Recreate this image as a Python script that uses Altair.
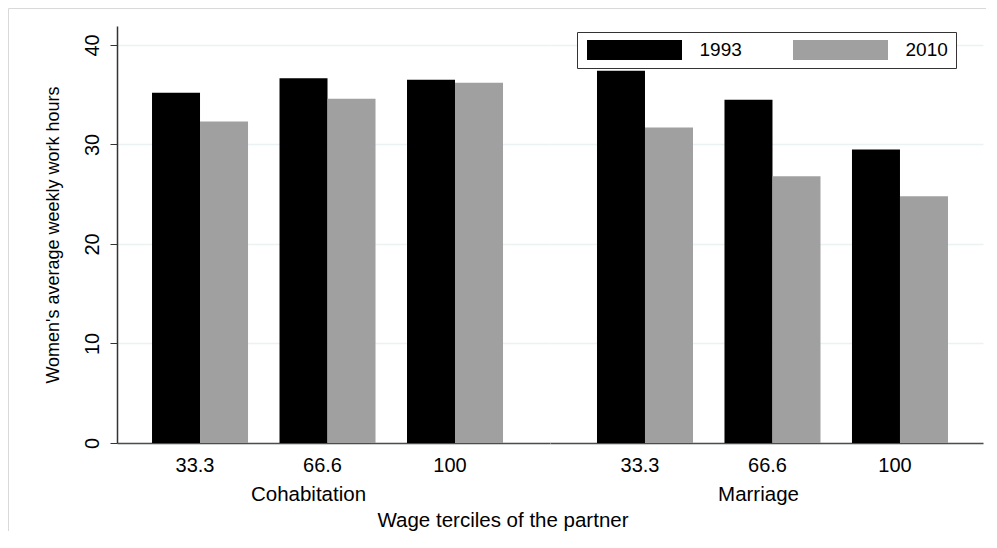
import altair as alt
import pandas as pd

# ---- data ----
terciles = ["33.3", "66.6", "100"]
years = ["1993", "2010"]
unions = ["Cohabitation", "Marriage"]
cohab_1993 = [35.2, 36.65, 36.5]
cohab_2010 = [32.3, 34.6, 36.2]
marr_1993 = [37.4, 34.5, 29.5]
marr_2010 = [31.7, 26.8, 24.8]
y_ticks = [0, 10, 20, 30, 40]
y_title = "Women's average weekly work hours"
x_title = "Wage terciles of the partner"


def table(union, v1993, v2010):
    rows = []
    for t, a, b in zip(terciles, v1993, v2010):
        rows.append({"union": union, "tercile": t, "year": years[0], "hours": a})
        rows.append({"union": union, "tercile": t, "year": years[1], "hours": b})
    return pd.DataFrame(rows)


FONT = "Liberation Sans"
W, H = 433, 417
INK = "#333333"
GRID = "#eaf2f3"
FRAME = "#d9d9d9"

color_scale = alt.Scale(domain=years, range=["#000000", "#a0a0a0"])
y_scale = alt.Scale(domain=[0, 41.9], nice=False)
one = pd.DataFrame({"k": [0]})


def x_enc(title, align, title_x):
    return alt.X(
        "tercile:N",
        sort=terciles,
        scale=alt.Scale(paddingInner=0.247, paddingOuter=0.3216, align=align),
        axis=alt.Axis(
            title=title, titleX=title_x, labelAngle=0, ticks=False, tickSize=0,
            labelPadding=12, labelFontSize=20, labelColor="black", labelOffset=-5,
            titleFontSize=20.5, titleFontWeight="normal", titleColor="black",
            titlePadding=9, domainColor="#4d4d4d", domainWidth=1.5, grid=False,
        ),
    )


y_left = alt.Axis(
    title=y_title, values=y_ticks, labelAngle=270, labelAlign="center",
    labelBaseline="alphabetic", labelPadding=12, labelFontSize=20,
    labelColor="black", tickSize=7, tickColor=INK, domainColor=INK,
    domainWidth=1.5, titleFontSize=18, titleFontWeight="normal",
    titleColor="black", titlePadding=20, grid=True, gridColor=GRID, gridWidth=1.5,
)
y_right = alt.Axis(
    title="", values=y_ticks, labels=False, ticks=False, domain=False,
    grid=True, gridColor=GRID, gridWidth=1.5,
)

legend = alt.Legend(
    title=None, orient="none", legendX=27, legendY=6, direction="horizontal",
    symbolType="M-4.75,-1H4.75V1H-4.75Z", symbolSize=400,
    symbolOffset=39.5, symbolStrokeWidth=0, labelOffset=55,
    labelFontSize=19, labelColor="black", columnPadding=49, padding=8,
    strokeColor=INK, fillColor="white",
)


def bars(df, title, align, title_x, yaxis, leg):
    return alt.Chart(df).mark_bar().encode(
        x=x_enc(title, align, title_x),
        xOffset=alt.XOffset("year:N", sort=years,
                            scale=alt.Scale(paddingInner=0, paddingOuter=0)),
        y=alt.Y("hours:Q", scale=y_scale, axis=yaxis),
        color=alt.Color("year:N", scale=color_scale, legend=leg),
    )


left_bars = bars(table(unions[0], cohab_1993, cohab_2010), unions[0], 0.427, 191, y_left, None)
right_bars = bars(table(unions[1], marr_1993, marr_2010), unions[1], 0.573, 208, y_right, legend)

left_edge = alt.Chart(one).mark_rule(color=FRAME, strokeWidth=1).encode(
    x=alt.value(-108.5), y=alt.value(-17.5), y2=alt.value(505))
top_edge = alt.Chart(one).mark_rule(color=FRAME, strokeWidth=1).encode(
    x=alt.value(-108.5), x2=alt.value(869), y=alt.value(-17.5))
x_label = alt.Chart(one).mark_text(
    text=x_title, fontSize=20.5, font=FONT, color="black",
    baseline="middle", align="center").encode(x=alt.value(386), y=alt.value(495))

left = alt.layer(left_bars, left_edge, top_edge, x_label).properties(width=W, height=H)
right = alt.layer(right_bars).properties(width=W, height=H)

chart = (
    alt.hconcat(left, right, spacing=0, bounds="flush")
    .resolve_scale(x="independent", y="independent", color="independent")
    .properties(padding={"left": 0, "top": 0, "right": 0, "bottom": 0})
    .configure(font=FONT)
    .configure_view(strokeWidth=0)
)

chart.save("out.html", embed_options={"renderer": "svg", "actions": False})
